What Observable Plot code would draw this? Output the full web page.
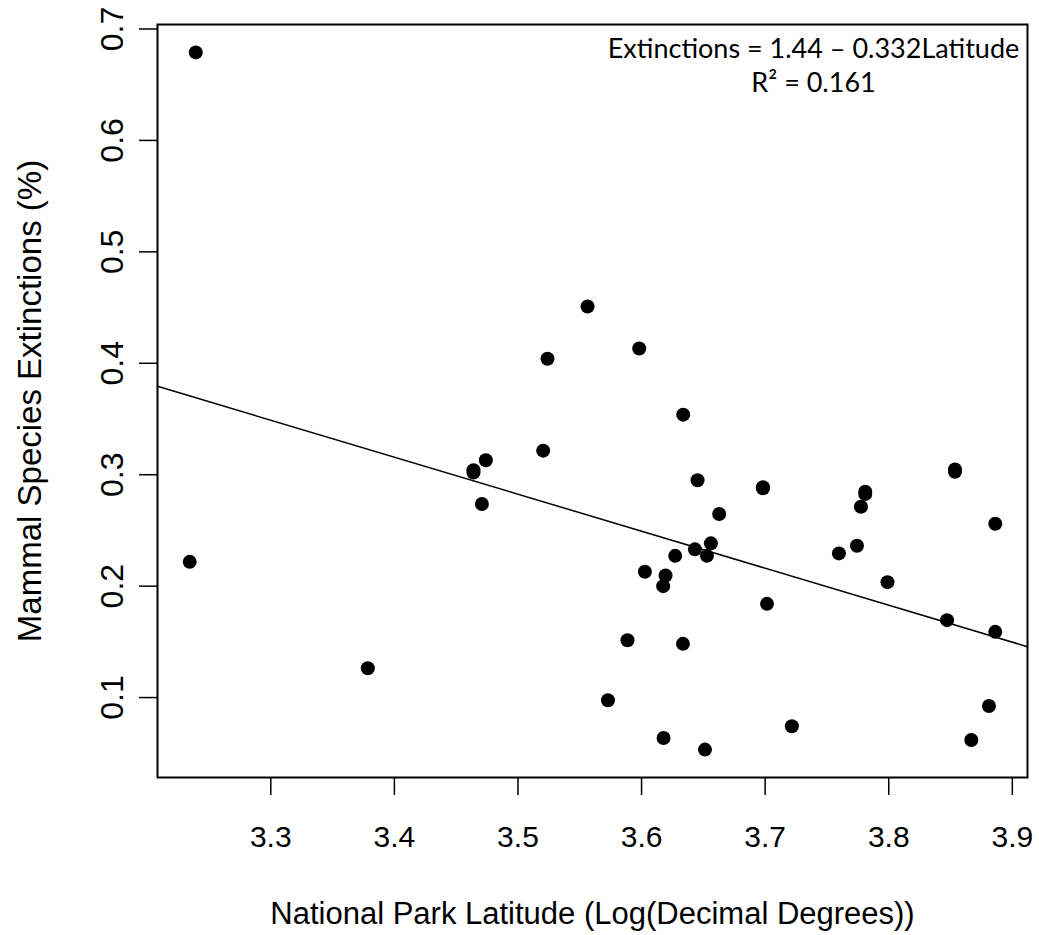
<!DOCTYPE html>
<html>
<head>
<meta charset="utf-8">
<script src="https://cdn.jsdelivr.net/npm/d3@7"></script>
<script src="https://cdn.jsdelivr.net/npm/@observablehq/plot@0.6"></script>
<style>
  body { margin: 0; background: #fff; }
</style>
</head>
<body>
<div id="chart"></div>
<script>
// Log latitude of each national park and its share of extinct mammal species
const latitude = [3.2393, 3.2344, 3.3785, 3.464, 3.464, 3.474, 3.4708, 3.5204, 3.5239, 3.5563,
  3.5981, 3.6337, 3.6453, 3.6982, 3.6982, 3.6628, 3.6561, 3.6432, 3.6529, 3.6272,
  3.6027, 3.6194, 3.6175, 3.7015, 3.5886, 3.6335, 3.5728, 3.6178, 3.6513, 3.7216,
  3.8811, 3.8668, 3.8536, 3.8536, 3.781, 3.781, 3.7775, 3.8862, 3.7743, 3.7597,
  3.799, 3.8472, 3.8862];
const extinctions = [0.679, 0.2218, 0.1263, 0.302, 0.304, 0.313, 0.2737, 0.3216, 0.404, 0.451,
  0.4132, 0.3539, 0.295, 0.2878, 0.2888, 0.2647, 0.2384, 0.233, 0.2272, 0.2272,
  0.2129, 0.2096, 0.2, 0.1841, 0.1515, 0.1482, 0.0976, 0.0637, 0.0533, 0.0742,
  0.0925, 0.0619, 0.3027, 0.3047, 0.2827, 0.2847, 0.2713, 0.256, 0.2362, 0.2294,
  0.2036, 0.1695, 0.159];

const xTicks = [3.3, 3.4, 3.5, 3.6, 3.7, 3.8, 3.9];
const yTicks = [0.1, 0.2, 0.3, 0.4, 0.5, 0.6, 0.7];

const xLabel = "National Park Latitude (Log(Decimal Degrees))";
const yLabel = "Mammal Species Extinctions (%)";

// Least-squares fit reported on the chart
const fitIntercept = 1.4445;
const fitSlope = -0.332;
const fitR2 = 0.161;

const parks = latitude.map((x, i) => ({x, y: extinctions[i]}));

// R-style axis range: data extent widened by 4% on each side
function padded(values) {
  const [lo, hi] = d3.extent(values);
  const pad = (hi - lo) * 0.04;
  return [lo - pad, hi + pad];
}
const xDomain = padded(latitude);
const yDomain = padded(extinctions);

// Fitted line spans the full plotting region
const fitLine = xDomain.map(x => ({x, y: fitIntercept + fitSlope * x}));

const equation =
  `Extinctions = ${fitIntercept.toFixed(2)} \u2013 ${(-fitSlope).toFixed(3)}Latitude\n` +
  `R\u00B2 = ${fitR2.toFixed(3)}`;

const fmt = d3.format(".1f");

const chart = Plot.plot({
  width: 1039,
  height: 935,
  marginLeft: 157,
  marginRight: 12,
  marginTop: 24,
  marginBottom: 158,
  x: {domain: xDomain},
  y: {domain: yDomain},
  style: {
    fontFamily: "'Liberation Sans', Arial, sans-serif",
    fontSize: "30px",
    background: "#fff",
    color: "#000"
  },
  marks: [
    Plot.axisX({ticks: xTicks, tickSize: 18, tickPadding: 30, tickFormat: fmt,
      label: null, strokeWidth: 1.5, fontSize: 30}),
    Plot.axisY({ticks: yTicks, tickSize: 18, tickPadding: 17, tickRotate: -90,
      tickFormat: fmt, label: null, strokeWidth: 1.5, fontSize: 32}),
    Plot.line(fitLine, {x: "x", y: "y", stroke: "#000", strokeWidth: 1.5}),
    Plot.dot(parks, {x: "x", y: "y", r: 7, fill: "#000"}),
    Plot.frame({stroke: "#000", strokeWidth: 2}),
    Plot.text([xLabel], {text: d => d, frameAnchor: "bottom", lineAnchor: "top",
      dy: 124, fontSize: 31, fill: "#000"}),
    Plot.text([yLabel], {text: d => d, frameAnchor: "left", rotate: -90,
      textAnchor: "middle", lineAnchor: "top", dx: -140, fontSize: 33, fill: "#000"}),
    Plot.text([equation], {text: d => d, frameAnchor: "top-right", textAnchor: "middle",
      lineAnchor: "top", dx: -214, dy: 9, lineHeight: 1.27,
      fontFamily: "Lato, 'Open Sans', sans-serif", fontSize: 27, fill: "#000"})
  ]
});

document.getElementById("chart").append(chart);
</script>
</body>
</html>
